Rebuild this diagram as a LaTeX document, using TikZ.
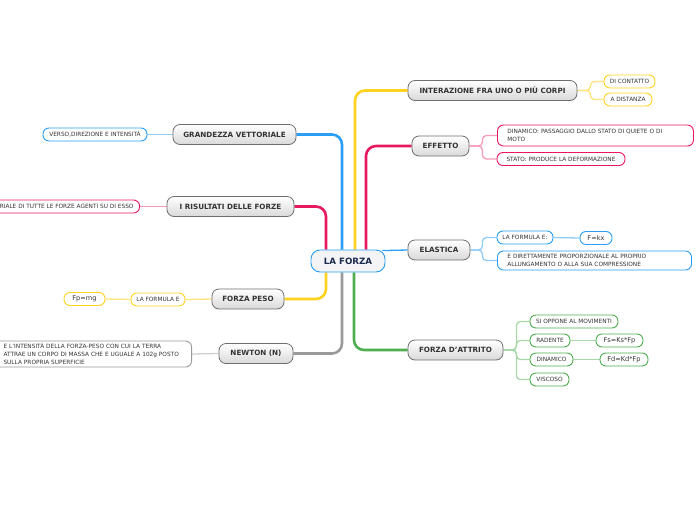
\documentclass[tikz,border=0pt]{standalone}
\usepackage{fontspec}
\setmainfont{DejaVu Sans}
\usetikzlibrary{backgrounds,calc}
\definecolor{yelc}{HTML}{FFD21F}
\definecolor{lyel}{HTML}{FFE27A}
\definecolor{pinkc}{HTML}{E8185F}
\definecolor{lpink}{HTML}{F59AB8}
\definecolor{bluec}{HTML}{2A9DF4}
\definecolor{lblue}{HTML}{8FCDF7}
\definecolor{grayc}{HTML}{9A9A9A}
\definecolor{lgray}{HTML}{CFCFCF}
\definecolor{grnc}{HTML}{4FAE4F}
\definecolor{lgrn}{HTML}{A8D8A8}
\definecolor{txt}{HTML}{333333}
\definecolor{mborder}{HTML}{6E6E6E}
\definecolor{shade}{HTML}{D9D9D9}
\definecolor{navy}{HTML}{1B2A4E}
\definecolor{cfill}{HTML}{F4F4F6}
\tikzset{
  mainbox/.style={draw=mborder, line width=0.8pt, rounded corners=7pt,
    top color=white, bottom color=shade, text=txt,
    font=\fontsize{7.2}{8.5}\selectfont\bfseries, inner sep=0pt, minimum height=20pt},
  leafbox/.style={draw=#1, line width=0.9pt, rounded corners=6pt, fill=white,
    text=txt, font=\fontsize{5.8}{8}\selectfont, inner sep=0pt, minimum height=13pt},
  formula/.style={font=\fontsize{6.6}{8}\selectfont},
  centerbox/.style={draw=bluec, line width=0.9pt, rounded corners=9pt, fill=cfill,
    text=navy, font=\fontsize{8.7}{10}\selectfont\bfseries, inner sep=0pt,
    minimum width=74pt, minimum height=22pt},
  branch/.style={draw=#1, line width=2.6pt, rounded corners=10pt},
  sub/.style={draw=#1, line width=1.3pt, rounded corners=4pt}
}
\begin{document}
\begin{tikzpicture}[x=1pt,y=-1pt]
\path[use as bounding box] (0,0) rectangle (696,520);
\clip (0,0) rectangle (696,520);
% centre
\node[centerbox] (c) at (348,261) {LA FORZA};
% upper right
\node[mainbox, minimum width=169pt] (inter) at (492.5,90.5) {INTERAZIONE FRA UNO O PIÙ CORPI};
\node[leafbox=yelc, minimum width=51pt] (dc) at (629.5,81.5) {DI CONTATTO};
\node[leafbox=yelc, minimum width=48pt] (ad) at (628,99.5) {A DISTANZA};
\node[mainbox, minimum width=57pt] (eff) at (440.5,146) {EFFETTO};
\node[leafbox=pinkc, anchor=west, text width=176pt, inner xsep=10pt, minimum height=21pt, align=left] (dina) at (497,135.5) {DINAMICO: PASSAGGIO DALLO STATO DI QUIETE O DI\\MOTO};
\node[leafbox=pinkc, minimum width=128pt] (stato) at (561,159) {STATO: PRODUCE LA DEFORMAZIONE};
% upper left
\node[mainbox, minimum width=123pt] (gv) at (234.5,134.5) {GRANDEZZA VETTORIALE};
\node[leafbox=bluec, minimum width=104pt] (verso) at (95,134.5) {VERSO,DIREZIONE E INTENSITÀ};
\node[mainbox, minimum width=127pt] (ir) at (230.5,206.5) {I RISULTATI DELLE FORZE};
\node[leafbox=pinkc, anchor=east, inner xsep=6pt] (ris) at (140,206.5) {VETTORIALE DI TUTTE LE FORZE AGENTI SU DI ESSO};
% elastica
\node[mainbox, minimum width=62pt] (ela) at (439,250) {ELASTICA};
\node[leafbox=bluec, minimum width=56pt] (lfe) at (525,237.5) {LA FORMULA E:};
\node[leafbox=bluec, formula, minimum width=32pt] (fkx) at (596,238) {F=kx};
\node[leafbox=bluec, anchor=west, text width=174pt, inner xsep=10pt, minimum height=19pt, align=left] (dir) at (497,260.5) {E DIRETTAMENTE PROPORZIONALE AL PROPRIO\\ALLUNGAMENTO O ALLA SUA COMPRESSIONE};
% lower left
\node[mainbox, minimum width=72pt] (fp) at (248,299) {FORZA PESO};
\node[leafbox=yelc, minimum width=54pt] (lf) at (158,299.5) {LA FORMULA E};
\node[leafbox=yelc, formula, minimum width=41pt] (fpmg) at (84.5,299) {Fp=mg};
\node[mainbox, minimum width=74pt] (nw) at (256,353.5) {NEWTON (N)};
\node[leafbox=grayc, anchor=east, text width=178pt, inner xsep=10pt, minimum height=26pt, align=left] (nwt) at (192,354) {E L'INTENSITÀ DELLA FORZA-PESO CON CUI LA TERRA\\ATTRAE UN CORPO DI MASSA CHE E UGUALE A 102g POSTO\\SULLA PROPRIA SUPERFICIE};
% attrito
\node[mainbox, minimum width=95pt] (att) at (455.5,350) {FORZA D'ATTRITO};
\node[leafbox=grnc, minimum width=88pt] (so) at (574,321.5) {SI OPPONE AL MOVIMENTI};
\node[leafbox=grnc, minimum width=40pt] (rad) at (550,340.5) {RADENTE};
\node[leafbox=grnc, formula, minimum width=47pt] (fs) at (619.5,340.5) {Fs=Ks*Fp};
\node[leafbox=grnc, minimum width=43pt] (din) at (551.5,359.5) {DINAMICO};
\node[leafbox=grnc, formula, minimum width=48pt] (fd) at (624,359.5) {Fd=Kd*Fp};
\node[leafbox=grnc, minimum width=39pt] (vis) at (549.5,379.5) {VISCOSO};
\begin{scope}[on background layer]
  % main branches
  \draw[branch=pinkc] ([xshift=-22pt]c.north) |- (ir.east);
  \draw[branch=bluec] ([xshift=-6pt]c.north) |- (gv.east);
  \draw[branch=yelc] ([xshift=7pt]c.north) |- (inter.west);
  \draw[branch=pinkc] ([xshift=18pt]c.north) |- (eff.west);
  \draw[draw=bluec, line width=1.3pt] ([xshift=-3pt,yshift=-1pt]c.north east) -- (ela.west);
  \draw[branch=yelc] ([xshift=-22pt]c.south) |- (fp.east);
  \draw[branch=grayc] ([xshift=-6pt]c.south) |- (nw.east);
  \draw[branch=grnc] ([xshift=6pt]c.south) |- (att.west);
  % sub branches
  \draw[sub=lyel] (inter.east) -- ++(13,0) |- (dc.west);
  \draw[sub=lyel] (inter.east) -- ++(13,0) |- (ad.west);
  \draw[sub=lpink] (eff.east) -- ++(13,0) |- (dina.west);
  \draw[sub=lpink] (eff.east) -- ++(13,0) |- (stato.west);
  \draw[sub=lblue] (gv.west) -- (verso.east);
  \draw[sub=lpink] (ir.west) -- (ris.east);
  \draw[sub=lblue] (ela.east) -- ++(12,0) |- (lfe.west);
  \draw[sub=lblue] (ela.east) -- ++(12,0) |- (dir.west);
  \draw[sub=lblue] (lfe.east) -- (fkx.west);
  \draw[sub=lyel] (fp.west) -- (lf.east);
  \draw[sub=lyel] (lf.west) -- (fpmg.east);
  \draw[sub=lgray] (nw.west) -- (nwt.east);
  \draw[sub=lgrn] (att.east) -- ++(13,0) |- (so.west);
  \draw[sub=lgrn] (att.east) -- ++(13,0) |- (rad.west);
  \draw[sub=lgrn] (att.east) -- ++(13,0) |- (din.west);
  \draw[sub=lgrn] (att.east) -- ++(13,0) |- (vis.west);
  \draw[sub=lgrn] (rad.east) -- (fs.west);
  \draw[sub=lgrn] (din.east) -- (fd.west);
\end{scope}
\end{tikzpicture}
\end{document}
